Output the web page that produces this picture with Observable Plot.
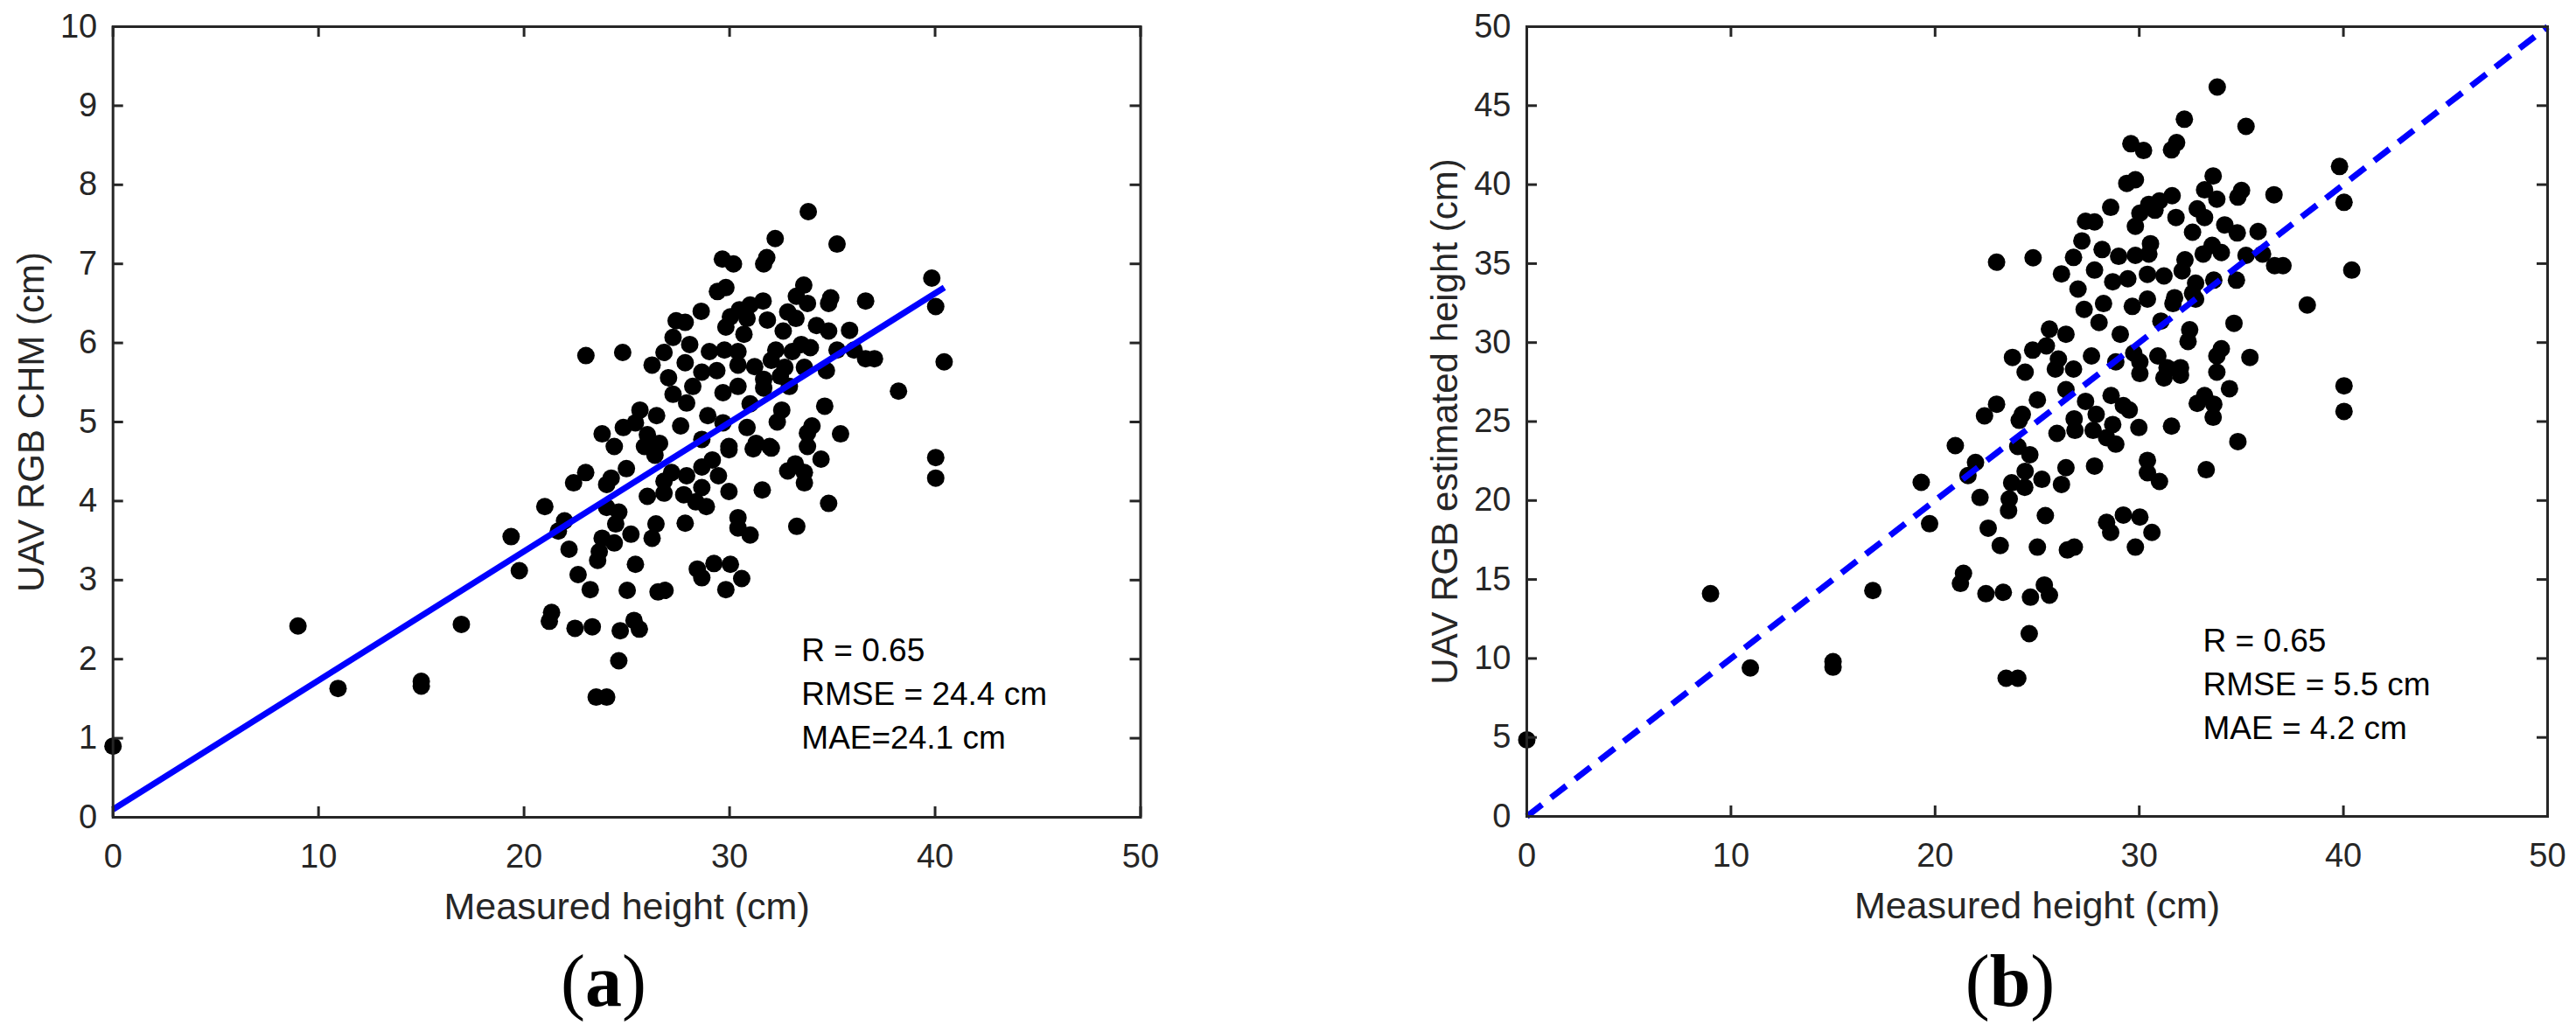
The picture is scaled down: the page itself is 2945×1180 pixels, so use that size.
<!DOCTYPE html>
<html><head><meta charset="utf-8">
<script src="https://cdn.jsdelivr.net/npm/d3@7"></script>
<script src="https://cdn.jsdelivr.net/npm/@observablehq/plot@0.6"></script>
<style>
html,body{margin:0;padding:0;background:#fff;}
#root{position:relative;width:2945px;height:1180px;overflow:hidden;background:#fff;}
.panel{position:absolute;top:0;}
.tag{position:absolute;font-family:"Liberation Serif","Times New Roman",serif;font-size:84px;line-height:1;color:#000;white-space:nowrap;transform:translateX(-50%);}
.tag b{font-weight:bold;}
</style></head>
<body><div id="root"></div>
<script>
// ---- data ----
const xTicks = [0, 10, 20, 30, 40, 50];
const yTicksA = [0, 1, 2, 3, 4, 5, 6, 7, 8, 9, 10];
const yTicksB = [0, 5, 10, 15, 20, 25, 30, 35, 40, 45, 50];

// (a) measured height vs UAV RGB CHM
const pointsA = [
[0,0.9],[9,2.42],[10.95,1.63],[15,1.72],[15,1.66],[16.95,2.44],
[33.83,7.66],[32.22,7.32],[35.23,7.25],[29.65,7.06],[30.19,7.00],[31.81,7.08],[31.66,7.00],[39.84,6.82],[33.61,6.73],[29.82,6.70],
[29.41,6.65],[33.25,6.59],[33.79,6.50],[34.92,6.57],[34.82,6.50],[36.62,6.53],[40.03,6.46],[28.62,6.40],[31.63,6.53],[31.0,6.48],
[30.48,6.42],[32.83,6.39],[33.23,6.31],[31.84,6.29],[27.40,6.28],[27.84,6.26],[30.04,6.33],[29.82,6.20],[30.85,6.31],[34.23,6.22],
[34.82,6.15],[35.84,6.16],[32.61,6.15],[27.25,6.07],[28.06,5.98],[30.70,6.11],[33.49,5.98],[33.93,5.94],[26.81,5.88],[24.80,5.88],
[23.01,5.84],[29.02,5.89],[29.75,5.91],[30.41,5.89],[32.25,5.91],[33.05,5.89],[35.23,5.91],[36.06,5.91],[36.62,5.80],[37.05,5.80],
[40.44,5.76],[26.23,5.72],[27.84,5.75],[30.41,5.72],[31.22,5.70],[32.03,5.78],[32.69,5.69],[33.64,5.69],[34.71,5.65],[27.03,5.56],
[28.65,5.63],[29.38,5.65],[31.66,5.54],[32.47,5.58],[27.25,5.35],[28.21,5.45],[29.68,5.37],[30.41,5.45],[31.66,5.43],[32.91,5.45],
[38.22,5.39],[27.91,5.24],[25.64,5.15],[26.45,5.08],[28.94,5.08],[31.0,5.23],[32.54,5.15],[34.63,5.20],[23.80,4.85],[24.83,4.93],
[25.42,4.99],[26.0,4.84],[27.62,4.95],[29.68,4.99],[30.85,4.93],[32.32,5.00],[34.01,4.95],[35.40,4.85],[33.79,4.86],[24.39,4.69],
[25.86,4.69],[26.59,4.73],[28.65,4.78],[29.97,4.65],[31.29,4.73],[31.95,4.69],[33.79,4.69],
[34.45,4.53],[40.03,4.55],[40.03,4.29],[33.20,4.47],[32.83,4.38],[33.64,4.36],[33.64,4.23],[31.59,4.14],[29.97,4.12],[34.82,3.97],
[33.27,3.68],[30.41,3.79],[30.41,3.66],[31.0,3.57],[27.84,3.72],[26.42,3.71],[26.23,3.53],[25.20,3.58],[24.46,3.71],[24.61,3.86],
[24.02,3.92],[24.98,4.41],[24.02,4.21],[24.24,4.29],[23.0,4.36],[22.41,4.23],[21.01,3.93],[21.97,3.75],[21.67,3.62],[19.37,3.55],
[19.77,3.12],[22.19,3.39],[23.80,3.53],[23.66,3.36],[23.58,3.25],[24.39,3.47],[25.42,3.20],[22.63,3.07],[23.22,2.88],[25.02,2.87],
[26.52,2.85],[26.86,2.87],[28.43,3.14],[29.24,3.21],[30.04,3.20],[28.65,3.03],[30.59,3.02],[29.82,2.88],[21.34,2.59],[21.23,2.48],
[22.48,2.39],[23.32,2.41],[24.68,2.36],[25.35,2.49],[25.61,2.38],[24.61,1.98],[23.51,1.52],[24.02,1.52],[26.0,4.06],[26.81,4.10],
[26.81,4.25],[27.77,4.08],[28.36,3.99],[28.87,3.93],[28.65,4.17],[29.16,4.52],[27.91,4.32],[26.37,4.58],[28.65,4.43],[27.18,4.36],
[29.46,4.32],[31.15,4.66],[32.03,4.67],[29.97,4.69]
];

// (b) measured height vs UAV RGB estimated height
const pointsB = [
[0,4.85],[9,14.1],[10.95,9.4],[15,9.8],[15,9.45],[16.95,14.3],
[33.82,46.18],[32.21,44.14],[35.23,43.69],[29.59,42.59],[30.21,42.16],[31.83,42.66],[31.58,42.20],[39.81,41.15],[33.62,40.55],[29.81,40.31],
[29.39,40.08],[33.20,39.67],[33.80,39.08],[35.01,39.63],[34.83,39.21],[36.60,39.36],[40.03,38.88],[28.60,38.56],[31.61,39.30],[30.99,38.97],
[30.47,38.75],[32.84,38.47],[33.20,37.92],[31.80,37.92],[27.37,37.68],[27.81,37.64],[30.03,38.19],[29.81,37.36],[30.77,38.38],[34.19,37.45],
[34.80,36.94],[35.82,37.03],[32.61,36.99],[27.19,36.44],[28.18,35.89],[30.55,36.26],[33.57,36.16],[34.02,35.70],[26.78,35.39],[24.80,35.37],
[23.01,35.09],[28.99,35.46],[29.81,35.52],[30.47,35.61],[32.24,35.24],[33.13,35.61],[35.23,35.52],[36.04,35.61],[36.63,34.87],[37.04,34.87],
[40.41,34.59],[26.19,34.35],[27.81,34.59],[30.40,34.32],[31.21,34.22],[32.10,34.54],[32.76,33.76],[33.65,33.95],[34.76,33.95],[27.00,33.39],
[28.70,33.85],[29.44,34.04],[31.73,32.84],[32.61,33.12],[27.30,32.10],[28.25,32.47],[29.66,32.29],[30.40,32.75],[31.65,32.47],[32.76,32.75],
[38.23,32.38],[28.03,31.27],[25.60,30.85],[26.41,30.53],[29.07,30.53],[31.06,31.36],[32.47,30.81],[34.64,31.22],[23.79,29.06],[24.78,29.52],
[25.45,29.79],[26.04,28.96],[27.66,29.15],[29.73,29.33],[30.91,29.15],[32.39,30.07],[34.02,29.61],[35.42,29.06],[33.80,29.15],[24.41,28.13],
[25.89,28.32],[26.78,28.32],[28.85,28.78],[30.03,28.78],[31.36,28.41],[32.02,28.41],[33.80,28.13],
[34.42,27.08],[40.03,27.26],[40.03,25.64],[33.20,26.65],[32.84,26.15],[33.65,26.10],[33.62,25.27],[31.58,24.71],[29.98,24.62],[34.83,23.73],
[33.28,21.95],[30.40,22.54],[30.40,21.76],[30.99,21.21],[27.81,22.18],[26.41,22.08],[26.19,21.02],[25.23,21.34],[24.41,21.85],[24.64,22.90],
[24.05,23.42],[25.01,26.37],[24.12,25.08],[24.27,25.45],[23.01,26.10],[22.42,25.36],[20.99,23.48],[21.98,22.41],[21.61,21.58],[19.32,21.15],
[19.73,18.53],[22.20,20.19],[23.75,21.12],[23.63,20.10],[23.60,19.36],[24.39,20.84],[25.40,19.05],[22.60,18.25],[23.19,17.15],[25.01,17.05],
[26.48,16.87],[26.82,17.05],[28.40,18.62],[29.22,19.08],[30.03,18.95],[28.60,17.98],[30.62,17.98],[29.81,17.05],[21.39,15.39],[21.24,14.75],
[22.49,14.10],[23.34,14.19],[24.67,13.88],[25.35,14.65],[25.60,14.01],[24.61,11.57],[23.48,8.75],[24.05,8.75],[25.97,24.25],[26.85,24.44],
[26.81,25.17],[27.74,24.44],[28.40,23.98],[28.85,23.57],[28.70,24.81],[29.22,26.01],[27.89,25.45],[26.41,27.02],[28.62,26.65],[27.37,26.28],
[29.51,25.73],[31.21,27.76],[32.02,27.94],[30.03,28.04]
];

// fitted line (a) and 1:1 line (b)
const fitX = [0, 40.45];
const fitY = [0.1, 6.7];
const oneToOneX = [0, 50];
const oneToOneY = [0, 50];

const statsA = ["R = 0.65", "RMSE = 24.4 cm", "MAE=24.1 cm"];
const statsB = ["R = 0.65", "RMSE = 5.5 cm", "MAE = 4.2 cm"];
const xTitle = "Measured height (cm)";
const yTitleA = "UAV RGB CHM (cm)";
const yTitleB = "UAV RGB estimated height (cm)";

// ---- drawing ----
const INK = "#262626";
const FONT = '"Liberation Sans", Arial, Helvetica, sans-serif';

function panel(o) {
  const iw = o.width - o.ml - o.mr, ih = o.height - o.mt - o.mb;
  const TL = 12;
  const line = o.lineX.map((x, i) => [x, o.lineY[i]]);
  return Plot.plot({
    width: o.width, height: o.height,
    marginLeft: o.ml, marginRight: o.mr, marginTop: o.mt, marginBottom: o.mb,
    x: {domain: [0, 50]},
    y: {domain: o.yDomain},
    style: {fontFamily: FONT, color: INK, background: "transparent", overflow: "visible", maxWidth: "none"},
    marks: [
      Plot.dot(o.points, {x: d => d[0], y: d => d[1], r: 10, fill: "#000", stroke: "none"}),
      Plot.line(line, {x: d => d[0], y: d => d[1], stroke: "#0000ff", strokeWidth: 7, strokeDasharray: o.dash, strokeLinecap: "butt"}),
      Plot.tickX(xTicks, {x: d => d, stroke: INK, strokeWidth: 3, insetTop: ih - TL}),
      Plot.tickX(xTicks, {x: d => d, stroke: INK, strokeWidth: 3, insetBottom: ih - TL}),
      Plot.tickY(o.yTicks, {y: d => d, stroke: INK, strokeWidth: 3, insetRight: iw - TL}),
      Plot.tickY(o.yTicks, {y: d => d, stroke: INK, strokeWidth: 3, insetLeft: iw - TL}),
      Plot.frame({stroke: INK, strokeWidth: 3}),
      Plot.axisX({ticks: xTicks, tickSize: 0, tickPadding: 31, fontSize: 38, label: null, tickFormat: d => String(d)}),
      Plot.axisY({ticks: o.yTicks, tickSize: 0, tickPadding: 18, fontSize: 38, label: null, tickFormat: d => String(d)}),
      Plot.text([xTitle], {frameAnchor: "bottom", textAnchor: "middle", lineAnchor: "middle", dy: 103, fontSize: 43, fill: INK}),
      Plot.text([o.yTitle], {frameAnchor: "left", textAnchor: "middle", lineAnchor: "middle", rotate: -90, dx: -93, fontSize: 42, fill: INK}),
      Plot.text([o.stats.join("\n")], {x: o.statsAt[0], y: o.statsAt[1], textAnchor: "start", lineAnchor: "top", lineHeight: 1.35, fontSize: 37, fill: "#000"})
    ]
  });
}

const root = document.getElementById("root");
function place(svg, left, width) {
  const d = document.createElement("div");
  d.className = "panel";
  d.style.left = left + "px";
  d.style.width = width + "px";
  d.appendChild(svg);
  root.appendChild(d);
}

place(panel({
  width: 1450, height: 1080, ml: 128.7, mr: 146.5, mt: 30, mb: 146,
  yDomain: [0, 10], yTicks: yTicksA, points: pointsA,
  lineX: fitX, lineY: fitY, dash: null,
  yTitle: yTitleA, stats: statsA, statsAt: [33.5, 2.37]
}), 0, 1450);

place(panel({
  width: 1465, height: 1080, ml: 265, mr: 33, mt: 30, mb: 147,
  yDomain: [0, 50], yTicks: yTicksB, points: pointsB,
  lineX: oneToOneX, lineY: oneToOneY, dash: "22,13",
  yTitle: yTitleB, stats: statsB, statsAt: [33.12, 12.38]
}), 1480, 1465);

function tag(letter, cx) {
  const d = document.createElement("div");
  d.className = "tag";
  d.style.left = cx + "px";
  d.style.top = "1080px";
  d.innerHTML = "(<b>" + letter + "</b>)";
  root.appendChild(d);
}
tag("a", 690);
tag("b", 2298);
</script></body></html>
